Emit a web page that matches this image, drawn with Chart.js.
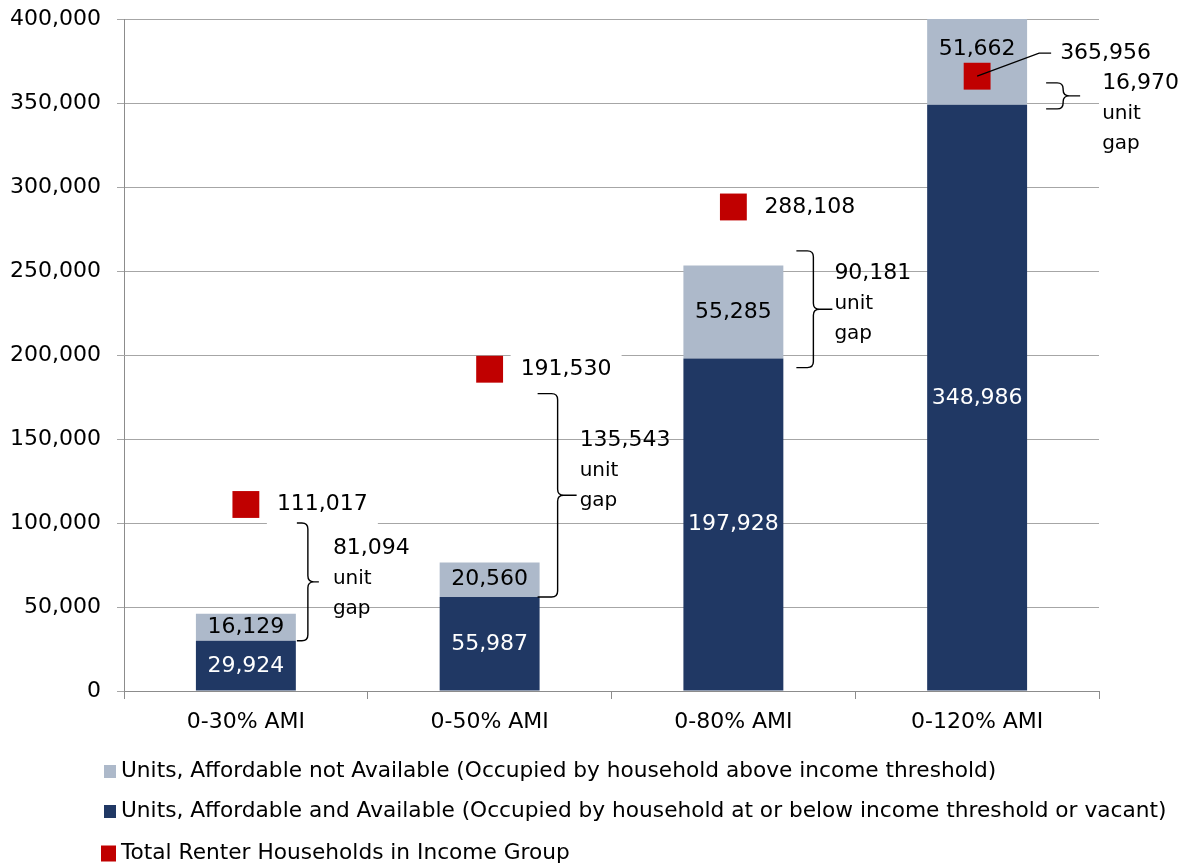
<!DOCTYPE html>
<html><head><meta charset="utf-8">
<script src="https://cdn.jsdelivr.net/npm/chart.js@4/dist/chart.umd.min.js"></script>
<style>html,body{margin:0;padding:0;background:#fff}#wrap{width:1184px;height:867px}</style>
</head><body><div id="wrap"><canvas id="c" width="1184" height="867"></canvas></div>
<script>
// ---- data ----
const categories = ['0-30% AMI', '0-50% AMI', '0-80% AMI', '0-120% AMI'];
const availableUnits = [29924, 55987, 197928, 348986];
const notAvailableUnits = [16129, 20560, 55285, 51662];
const totalRenters = [111017, 191530, 288108, 365956];
const unitGaps = [81094, 135543, 90181, 16970];
const yTicks = [0, 50000, 100000, 150000, 200000, 250000, 300000, 350000, 400000];
const seriesNames = [
  'Units, Affordable not Available (Occupied by household above income threshold)',
  'Units, Affordable and Available (Occupied by household at or below income threshold or vacant)',
  'Total Renter Households in Income Group'
];
const colors = { notAvail: '#ADB9CA', avail: '#203864', total: '#C00000' };

// ---- styles / annotation layout ----
const FONT = '"DejaVu Sans", sans-serif';
const fmt = v => v.toLocaleString('en-US');
// brace spans and pixel offsets from category centre
const braces = [
  { top: 100000, bottom: 29924, dx: 62, stub: 11, tip: 11, tdx: 87, tdy: -34 },
  { top: 177000, bottom: 55987, dx: 68, stub: 20, tip: 19, tdx: 90, tdy: -55 },
  { top: 262000, bottom: 192500, dx: 80, stub: 17, tip: 19, tdx: 101, tdy: -36 },
  { top: 362000, bottom: 346500, dx: 86, stub: 17, tip: 17, tdx: 125, tdy: -13 }
];

const annot = {
  id: 'annot',
  afterDatasetsDraw(chart) {
    const ctx = chart.ctx, xs = chart.scales.x, ys = chart.scales.y, area = chart.chartArea;
    ctx.save();
    ctx.textBaseline = 'middle';
    // segment labels
    categories.forEach((c, i) => {
      const cx = xs.getPixelForValue(i);
      const y0 = ys.getPixelForValue(0), y1 = ys.getPixelForValue(availableUnits[i]);
      const y2 = Math.max(area.top, ys.getPixelForValue(availableUnits[i] + notAvailableUnits[i]));
      ctx.font = '22px ' + FONT;
      ctx.textAlign = 'center';
      ctx.fillStyle = '#fff';
      ctx.fillText(fmt(availableUnits[i]), cx, (y0 + y1) / 2);
      let ly = (y1 + y2) / 2;
      const mp = ys.getPixelForValue(totalRenters[i]);
      if (Math.abs(ly - mp) < 26) ly = mp - 13.5 - 13;
      ctx.fillStyle = '#000';
      ctx.fillText(fmt(notAvailableUnits[i]), cx, ly);
    });
    // total labels
    categories.forEach((c, i) => {
      const cx = xs.getPixelForValue(i);
      const py = ys.getPixelForValue(totalRenters[i]);
      const txt = fmt(totalRenters[i]);
      ctx.font = '22px ' + FONT;
      ctx.textAlign = 'left';
      const w = ctx.measureText(txt).width;
      if (i < categories.length - 1) {
        ctx.fillStyle = '#fff';
        ctx.fillRect(cx + 21, py - 17, w + 20, 38);
        ctx.fillStyle = '#000';
        ctx.fillText(txt, cx + 31, py);
      } else {
        ctx.strokeStyle = '#000'; ctx.lineWidth = 1.3;
        ctx.beginPath();
        ctx.moveTo(cx, py); ctx.lineTo(cx + 62, py - 23); ctx.lineTo(cx + 74, py - 23);
        ctx.stroke();
        ctx.fillStyle = '#000';
        ctx.fillText(txt, cx + 83, py - 23);
      }
    });
    // braces + gap labels
    braces.forEach((b, i) => {
      const cx = xs.getPixelForValue(i);
      const x = cx + b.dx;
      const top = ys.getPixelForValue(b.top), bot = ys.getPixelForValue(b.bottom);
      const mid = (top + bot) / 2;
      const r = Math.min(6, (bot - top) / 4);
      ctx.strokeStyle = '#000'; ctx.lineWidth = 1.4;
      ctx.beginPath();
      ctx.moveTo(x - b.stub, top);
      ctx.lineTo(x - r, top);
      ctx.quadraticCurveTo(x, top, x, top + r);
      ctx.lineTo(x, mid - r);
      ctx.quadraticCurveTo(x, mid, x + r, mid);
      ctx.quadraticCurveTo(x, mid, x, mid + r);
      ctx.lineTo(x, bot - r);
      ctx.quadraticCurveTo(x, bot, x - r, bot);
      ctx.lineTo(x - b.stub, bot);
      ctx.moveTo(x + r, mid);
      ctx.lineTo(x + b.tip, mid);
      ctx.stroke();
      const tx = cx + b.tdx, ty = mid + b.tdy;
      ctx.fillStyle = '#000';
      ctx.textAlign = 'left';
      ctx.font = '22px ' + FONT;
      ctx.fillText(fmt(unitGaps[i]), tx, ty);
      ctx.font = '20px ' + FONT;
      ctx.fillText('unit', tx, ty + 30.5);
      ctx.fillText('gap', tx, ty + 61);
    });
    ctx.restore();
  },
  afterDraw(chart) {
    const ctx = chart.ctx;
    ctx.save();
    ctx.textBaseline = 'middle';
    ctx.textAlign = 'left';
    ctx.font = '21.7px ' + FONT;
    const rows = [
      { name: seriesNames[0], color: colors.notAvail, y: 771, s: 12 },
      { name: seriesNames[1], color: colors.avail, y: 811, s: 12 },
      { name: seriesNames[2], color: colors.total, y: 853, s: 15 }
    ];
    rows.forEach(r => {
      ctx.fillStyle = r.color;
      ctx.fillRect(116 - r.s, r.y - r.s / 2, r.s, r.s + 1);
      ctx.fillStyle = '#000';
      ctx.fillText(r.name, 121, r.y);
    });
    ctx.restore();
  }
};

new Chart(document.getElementById('c'), {
  type: 'bar',
  data: {
    labels: categories,
    datasets: [
      { type: 'line', label: seriesNames[2], data: totalRenters, stack: 'total', order: 0,
        showLine: false, pointStyle: 'rect', pointRadius: 19, pointHoverRadius: 19,
        pointBackgroundColor: colors.total, pointBorderWidth: 0, backgroundColor: colors.total, borderColor: colors.total },
      { label: seriesNames[1], data: availableUnits, backgroundColor: colors.avail, stack: 'units', order: 1 },
      { label: seriesNames[0], data: notAvailableUnits, backgroundColor: colors.notAvail, stack: 'units', order: 1 }
    ]
  },
  options: {
    responsive: false, animation: false, devicePixelRatio: 1,
    layout: { padding: { left: 0, right: 85, top: 18, bottom: 0 } },
    plugins: { legend: { display: false }, tooltip: { enabled: false } },
    datasets: { bar: { categoryPercentage: 0.41, barPercentage: 1 } },
    scales: {
      x: {
        stacked: true,
        grid: { display: true, drawOnChartArea: false, drawTicks: true, tickLength: 8, color: '#8c8c8c', offset: true },
        border: { color: '#8c8c8c' },
        ticks: { font: { family: FONT, size: 22 }, color: '#000', padding: 10 },
        afterFit(s) { s.height = 176; s.paddingLeft = 0; s.paddingRight = 0; }
      },
      y: {
        stacked: true, min: 0, max: 400000,
        afterBuildTicks(s) { s.ticks = yTicks.map(v => ({ value: v })); },
        ticks: { callback: v => fmt(v), font: { family: FONT, size: 22 }, color: '#000', padding: 16 },
        grid: { color: '#a6a6a6', tickLength: 7 },
        border: { color: '#8c8c8c' },
        afterFit(s) { s.width = 124; s.paddingTop = 0; s.paddingBottom = 0; }
      }
    }
  },
  plugins: [annot]
});
</script></body></html>
